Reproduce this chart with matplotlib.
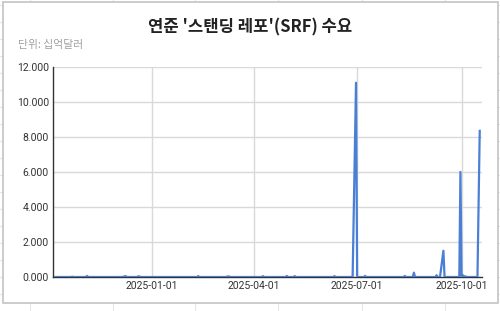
import matplotlib.pyplot as plt
import matplotlib.dates as mdates
from matplotlib.patches import Rectangle
from matplotlib.ticker import FuncFormatter, MultipleLocator
import numpy as np
import pandas as pd

# SRF 이용액 (십억달러)
dates = ["2024-10-08", "2024-10-22", "2024-10-23", "2024-10-24",
         "2024-11-04", "2024-11-05", "2024-11-06",
         "2024-12-06", "2024-12-09", "2024-12-10",
         "2024-12-19", "2024-12-20", "2024-12-23",
         "2025-02-10", "2025-02-11", "2025-02-12",
         "2025-03-07", "2025-03-10", "2025-03-11",
         "2025-04-08", "2025-04-09", "2025-04-10",
         "2025-04-29", "2025-04-30", "2025-05-01",
         "2025-05-06", "2025-05-07", "2025-05-08",
         "2025-06-10", "2025-06-11", "2025-06-12",
         "2025-06-27", "2025-06-30", "2025-07-01",
         "2025-07-07", "2025-07-08", "2025-07-09",
         "2025-08-11", "2025-08-12", "2025-08-13",
         "2025-08-19", "2025-08-20", "2025-08-21",
         "2025-09-08", "2025-09-09", "2025-09-10",
         "2025-09-12", "2025-09-15", "2025-09-16",
         "2025-09-29", "2025-09-30", "2025-10-01", "2025-10-02", "2025-10-03",
         "2025-10-06", "2025-10-15", "2025-10-17"]
values = [0, 0, 0.02, 0,
          0, 0.06, 0,
          0, 0.05, 0,
          0, 0.04, 0,
          0, 0.05, 0,
          0, 0.04, 0,
          0, 0.05, 0,
          0, 0.06, 0,
          0, 0.05, 0,
          0, 0.05, 0,
          0, 11.1, 0,
          0, 0.06, 0,
          0, 0.06, 0,
          0, 0.25, 0,
          0, 0.1, 0,
          0, 1.5, 0,
          0, 6.0, 0.05, 0.1, 0.05,
          0, 0, 8.35]
tick_dates = ["2025-01-01", "2025-04-01", "2025-07-01", "2025-10-01"]

title = "연준 '스탠딩 레포'(SRF) 수요"
subtitle = "단위: 십억달러"

plt.rcParams['font.family'] = ['Roboto', 'Noto Sans CJK KR', 'DejaVu Sans']

fig = plt.figure(figsize=(5, 3.11), dpi=100)
fig.patch.set_facecolor('white')

# 스프레드시트 배경 격자
for gx in [30, 113, 195, 278, 362, 445]:
    fig.add_artist(plt.Line2D([gx / 500, gx / 500], [0, 1], color='#e6e6e6', lw=0.8, zorder=0))
for gy in np.arange(5, 311, 17):
    fig.add_artist(plt.Line2D([0, 1], [1 - gy / 311, 1 - gy / 311], color='#e6e6e6', lw=0.8, zorder=0))
# 차트 카드
fig.add_artist(Rectangle((3 / 500, 1 - 303 / 311), 494.5 / 500, 301 / 311,
                         facecolor='white', edgecolor='#c4c4c4', lw=1.2, zorder=1))

ax = fig.add_axes([53 / 500, 1 - 277 / 311, 429 / 500, 210 / 311], zorder=2)
ax.set_facecolor('none')

x = pd.to_datetime(dates)
ax.plot(x, values, color='#4a7fd6', lw=1.6, zorder=3)

ax.set_xlim(mdates.date2num(pd.Timestamp("2024-10-06")), mdates.date2num(pd.Timestamp("2025-10-19")))
ax.set_ylim(0, 12)
ax.yaxis.set_major_locator(MultipleLocator(2))
ax.yaxis.set_major_formatter(FuncFormatter(lambda v, p: f"{v:.3f}"))
ax.set_xticks(pd.to_datetime(tick_dates))
ax.set_xticklabels(tick_dates)

ax.grid(True, color='#d9d9d9', lw=1)
ax.set_axisbelow(True)
for s in ['top', 'right']:
    ax.spines[s].set_visible(False)
for s in ['left', 'bottom']:
    ax.spines[s].set_color('#333333')
    ax.spines[s].set_linewidth(1)
ax.tick_params(length=0, labelsize=7.5, labelcolor='#333333', pad=3)

fig.text(0.5, 1 - 27 / 311, title, ha='center', va='center', fontsize=12, fontweight='bold',
         color='#222222', family=['Noto Sans CJK KR', 'DejaVu Sans'], zorder=3)
fig.text(18 / 500, 1 - 45 / 311, subtitle, ha='left', va='center', fontsize=7.8,
         color='#a0a0a0', family=['Noto Sans CJK KR', 'DejaVu Sans'], zorder=3)

fig.savefig("out.png", dpi=100)
